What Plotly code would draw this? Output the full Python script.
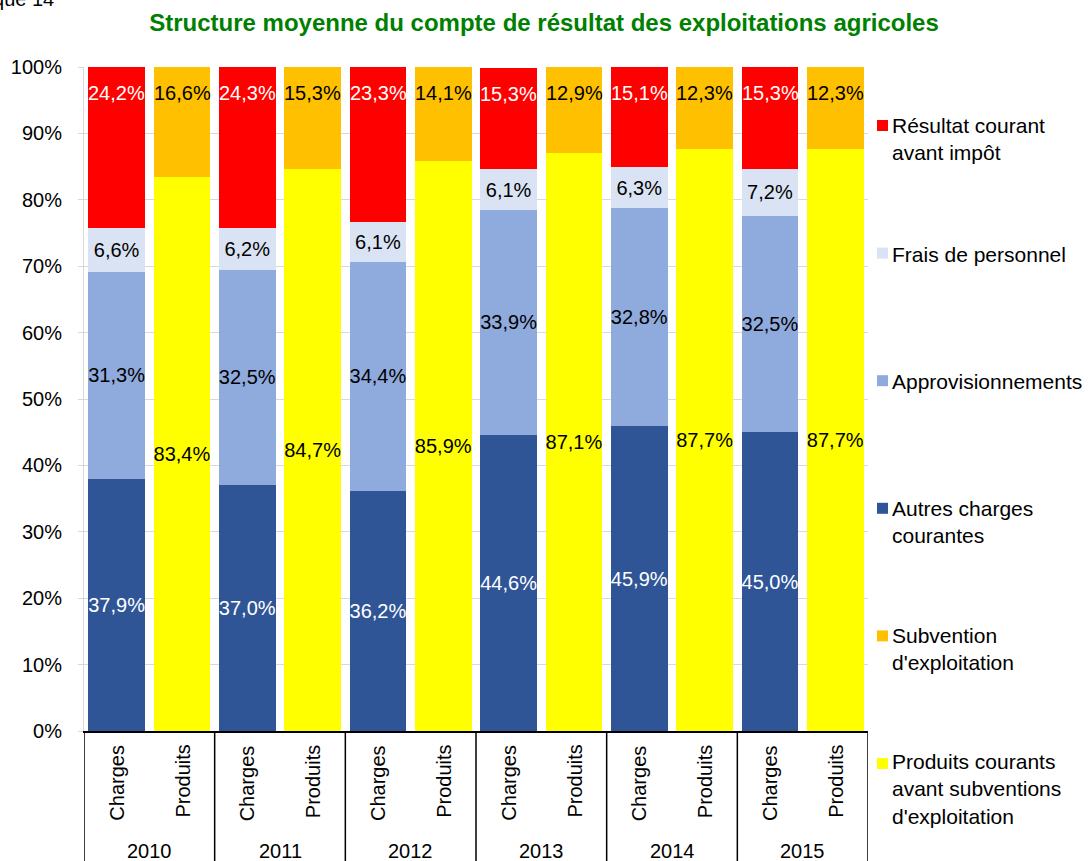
import plotly.graph_objects as go

# ---- data ----
years = ["2010", "2011", "2012", "2013", "2014", "2015"]
types = ["Charges", "Produits"]

autres_charges = [37.9, 37.0, 36.2, 44.6, 45.9, 45.0]
approvisionnements = [31.3, 32.5, 34.4, 33.9, 32.8, 32.5]
frais_personnel = [6.6, 6.2, 6.1, 6.1, 6.3, 7.2]
resultat_courant = [24.2, 24.3, 23.3, 15.3, 15.1, 15.3]
produits_courants = [83.4, 84.7, 85.9, 87.1, 87.7, 87.7]
subvention = [16.6, 15.3, 14.1, 12.9, 12.3, 12.3]

ytick_vals = list(range(0, 101, 10))

FONT = "Liberation Sans, Arial, sans-serif"
W, H = 1088, 861
ML, MR, MT, MB = 84, 220, 67, 130
PW = W - ML - MR
PH = H - MT - MB
YMAX = 100


def px_x(p):
    return (p - ML) / PW


def px_y(p):
    return (H - MB - p) / PH


def fmt(v):
    return f"{v:.1f}".replace(".", ",") + "%"


categories = [f"{y} {t}" for y in years for t in types]
charges_x = categories[0::2]
produits_x = categories[1::2]

fig = go.Figure()


def add_bar(name, x, y, color, txtcolor, show_text=True):
    fig.add_trace(go.Bar(
        name=name, x=x, y=y,
        marker=dict(color=color, line=dict(width=0)),
        text=[fmt(v) for v in y] if show_text else None,
        textposition="inside" if show_text else "none",
        insidetextanchor="middle",
        textangle=0,
        constraintext="none",
        textfont=dict(family=FONT, size=20, color=txtcolor),
        showlegend=False,
        hoverinfo="skip",
    ))


add_bar("Autres charges courantes", charges_x, autres_charges, "#2F5597", "white")
add_bar("Approvisionnements", charges_x, approvisionnements, "#8FAADC", "black")
add_bar("Frais de personnel", charges_x, frais_personnel, "#DAE3F3", "black")
add_bar("Résultat courant avant impôt", charges_x, resultat_courant, "#FF0000", "white", show_text=False)
add_bar("Produits courants avant subventions d'exploitation", produits_x, produits_courants, "#FFFF00", "black")
add_bar("Subvention d'exploitation", produits_x, subvention, "#FFC000", "black", show_text=False)

annotations = []
shapes = []

# inside-end labels for top segments
for i, cx in enumerate(charges_x):
    top = autres_charges[i] + approvisionnements[i] + frais_personnel[i] + resultat_courant[i]
    annotations.append(dict(x=cx, y=min(top, YMAX), xref="x", yref="y", text=fmt(resultat_courant[i]),
                            showarrow=False, yanchor="middle", yshift=-26,
                            font=dict(family=FONT, size=20, color="white")))
for i, cx in enumerate(produits_x):
    top = produits_courants[i] + subvention[i]
    annotations.append(dict(x=cx, y=min(top, YMAX), xref="x", yref="y", text=fmt(subvention[i]),
                            showarrow=False, yanchor="middle", yshift=-26,
                            font=dict(family=FONT, size=20, color="black")))

# category labels (rotated) and year labels
for cat in categories:
    annotations.append(dict(x=cat, y=px_y(743), xref="x", yref="paper", text=cat.split(" ")[1],
                            textangle=-90, showarrow=False, yanchor="top", xanchor="center",
                            font=dict(family=FONT, size=20, color="black")))
for j, yr in enumerate(years):
    annotations.append(dict(x=2 * j + 0.5, y=px_y(851), xref="x", yref="paper", text=yr,
                            showarrow=False, yanchor="middle", xanchor="center",
                            font=dict(family=FONT, size=20, color="black")))
    shapes.append(dict(type="line", xref="x", yref="paper", x0=2 * j - 0.5, x1=2 * j - 0.5,
                       y0=0, y1=-0.25, line=dict(color="black", width=1.5)))
shapes.append(dict(type="line", xref="x", yref="paper", x0=len(categories) - 0.5, x1=len(categories) - 0.5,
                   y0=0, y1=-0.25, line=dict(color="black", width=1.5)))

# manual legend
legend_items = [
    ("Résultat courant<br>avant impôt", "#FF0000", 2),
    ("Frais de personnel", "#DAE3F3", 1),
    ("Approvisionnements", "#8FAADC", 1),
    ("Autres charges<br>courantes", "#2F5597", 2),
    ("Subvention<br>d'exploitation", "#FFC000", 2),
    ("Produits courants<br>avant subventions<br>d'exploitation", "#FFFF00", 3),
]
for k, (label, color, nlines) in enumerate(legend_items):
    c1 = 125.5 + 127.6 * k
    shapes.append(dict(type="rect", xref="paper", yref="paper",
                       x0=px_x(877), x1=px_x(888), y0=px_y(c1 + 5.5), y1=px_y(c1 - 5.5),
                       fillcolor=color, line=dict(width=0)))
    annotations.append(dict(x=px_x(890), y=px_y(c1 + 1 + (nlines - 1) * 12.35), xref="paper", yref="paper",
                            text=label, showarrow=False, xanchor="left", yanchor="middle", align="left",
                            font=dict(family=FONT, size=21, color="black")))

# cut-off chart number at top-left (cut off in the original as well)
annotations.append(dict(x=px_x(56), y=px_y(-1), xref="paper", yref="paper", text="Graphique 14",
                        showarrow=False, xanchor="right", yanchor="middle",
                        font=dict(family=FONT, size=20, color="black")))

fig.update_layout(
    width=W, height=H,
    margin=dict(l=ML, r=MR, t=MT, b=MB, pad=0),
    barmode="stack",
    bargap=0.13,
    plot_bgcolor="white",
    paper_bgcolor="white",
    showlegend=False,
    title=dict(text="<b>Structure moyenne du compte de résultat des exploitations agricoles</b>",
               xref="container", x=0.5, xanchor="center",
               yref="container", y=1 - 23 / H, yanchor="middle",
               font=dict(family=FONT, size=24, color="#008000")),
    xaxis=dict(type="category", categoryorder="array", categoryarray=categories,
               range=[-0.5, len(categories) - 0.5],
               showticklabels=False, ticks="", showgrid=False,
               showline=True, linecolor="black", linewidth=1.5, zeroline=False),
    yaxis=dict(range=[0, YMAX], tickvals=ytick_vals, ticktext=[f"{v}%" for v in ytick_vals],
               showgrid=True, gridcolor="#D9D9D9", gridwidth=1,
               showline=True, linecolor="#D9D9D9", linewidth=1,
               ticks="outside", ticklen=5, tickcolor="#D9D9D9",
               ticklabelstandoff=12, zeroline=False,
               tickfont=dict(family=FONT, size=20, color="black")),
    annotations=annotations,
    shapes=shapes,
)

fig.write_html("out.html")
